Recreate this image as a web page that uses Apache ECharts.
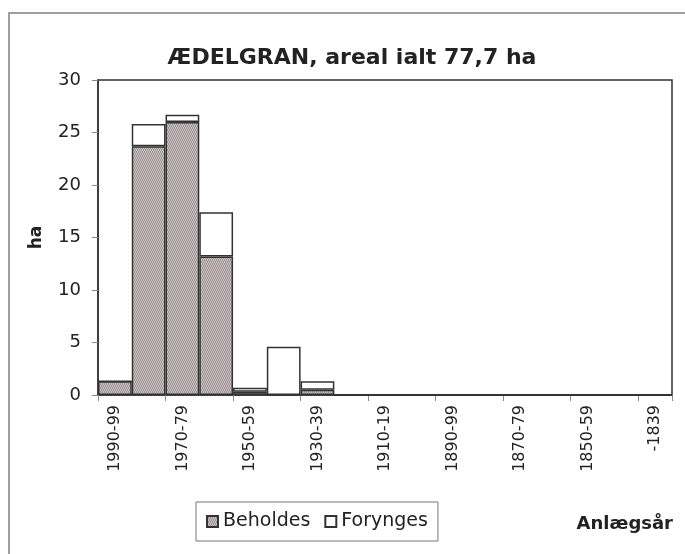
<!DOCTYPE html>
<html>
<head>
<meta charset="utf-8">
<script src="https://cdn.jsdelivr.net/npm/echarts@6/dist/echarts.min.js"></script>
<style>
  html, body { margin: 0; padding: 0; background: #fff; }
  #chart { width: 685px; height: 554px; }
</style>
</head>
<body>
<div id="chart"></div>
<script>
// Anlægsår (aldersklasser), nyeste først
const categories = ['1990-99', '1980-89', '1970-79', '1960-69', '1950-59', '1940-49', '1930-39',
  '1920-29', '1910-19', '1900-09', '1890-99', '1880-89', '1870-79', '1860-69', '1850-59',
  '1840-49', '-1839'];
// ha pr. klasse
const beholdes = [1.3, 23.7, 26.0, 13.2, 0.3, 0, 0.5, 0, 0, 0, 0, 0, 0, 0, 0, 0, 0];
const forynges = [0, 2.1, 0.7, 4.2, 0.4, 4.6, 0.8, 0, 0, 0, 0, 0, 0, 0, 0, 0, 0];

const FONT = '"DejaVu Sans", Arial, sans-serif';

// fint skraveret mønster til "Beholdes"
function hatch() {
  const c = document.createElement('canvas');
  c.width = 4; c.height = 4;
  const g = c.getContext('2d');
  g.fillStyle = '#cbc3c3';
  g.fillRect(0, 0, 4, 4);
  g.fillStyle = '#9c9292';
  [[0, 0], [2, 0], [1, 1], [3, 2], [1, 2], [0, 3], [2, 3], [3, 1]].forEach(([x, y]) => g.fillRect(x, y, 1, 1));
  return { image: c, repeat: 'repeat' };
}
const pattern = hatch();

const chart = echarts.init(document.getElementById('chart'), null, { renderer: 'canvas' });

chart.setOption({
  backgroundColor: '#fff',
  animation: false,
  textStyle: { fontFamily: FONT },
  title: {
    text: 'ÆDELGRAN, areal ialt 77,7 ha',
    left: 347,
    textAlign: 'center',
    top: 42,
    textStyle: { fontSize: 22, fontWeight: 'bold', color: '#222', fontFamily: FONT },
  },
  legend: {
    left: 196,
    top: 502,
    orient: 'horizontal',
    itemWidth: 11,
    itemHeight: 11,
    itemGap: 14,
    padding: [10, 10, 10, 10],
    borderColor: '#777',
    borderWidth: 1,
    icon: 'rect',
    textStyle: { fontSize: 19, color: '#222', fontFamily: FONT },
    data: ['Beholdes', 'Forynges'],
  },
  grid: {
    left: 98, top: 80, right: 13, bottom: 159,
    show: true, borderColor: '#333', borderWidth: 1.5,
  },
  xAxis: {
    type: 'category',
    data: categories,
    boundaryGap: true,
    axisLine: { lineStyle: { color: '#333', width: 1.5 } },
    axisTick: { show: true, length: 6, lineStyle: { color: '#888' } },
    axisLabel: {
      interval: 1, rotate: 90, margin: 10,
      fontSize: 16, color: '#222', fontFamily: FONT,
    },
  },
  yAxis: {
    type: 'value',
    min: 0, max: 30, interval: 5,
    name: 'ha',
    nameLocation: 'middle',
    nameGap: 53,
    nameRotate: 90,
    nameTextStyle: { fontSize: 17, fontWeight: 'bold', color: '#222', fontFamily: FONT },
    axisLine: { show: true, lineStyle: { color: '#333', width: 1.5 } },
    axisTick: { show: true, length: 6, lineStyle: { color: '#888' } },
    axisLabel: { margin: 17, fontSize: 18, color: '#222', fontFamily: FONT },
    splitLine: { show: false },
  },
  series: [
    {
      name: 'Beholdes', type: 'bar', stack: 'ha', barWidth: '100%',
      itemStyle: { color: pattern, borderColor: '#333', borderWidth: 1.5 },
      data: beholdes,
    },
    {
      name: 'Forynges', type: 'bar', stack: 'ha', barWidth: '100%',
      itemStyle: { color: '#fff', borderColor: '#333', borderWidth: 1.5 },
      data: forynges,
    },
  ],
  graphic: [
    {
      type: 'rect', silent: true, z: -1,
      shape: { x: 9, y: 13, width: 700, height: 600 },
      style: { fill: 'none', stroke: '#808080', lineWidth: 1.5 },
    },
    {
      type: 'text', silent: true,
      x: 673, y: 524,
      style: {
        text: 'Anlægsår', align: 'right', verticalAlign: 'middle',
        font: 'bold 18px ' + FONT, fill: '#222',
      },
    },
  ],
});
</script>
</body>
</html>
